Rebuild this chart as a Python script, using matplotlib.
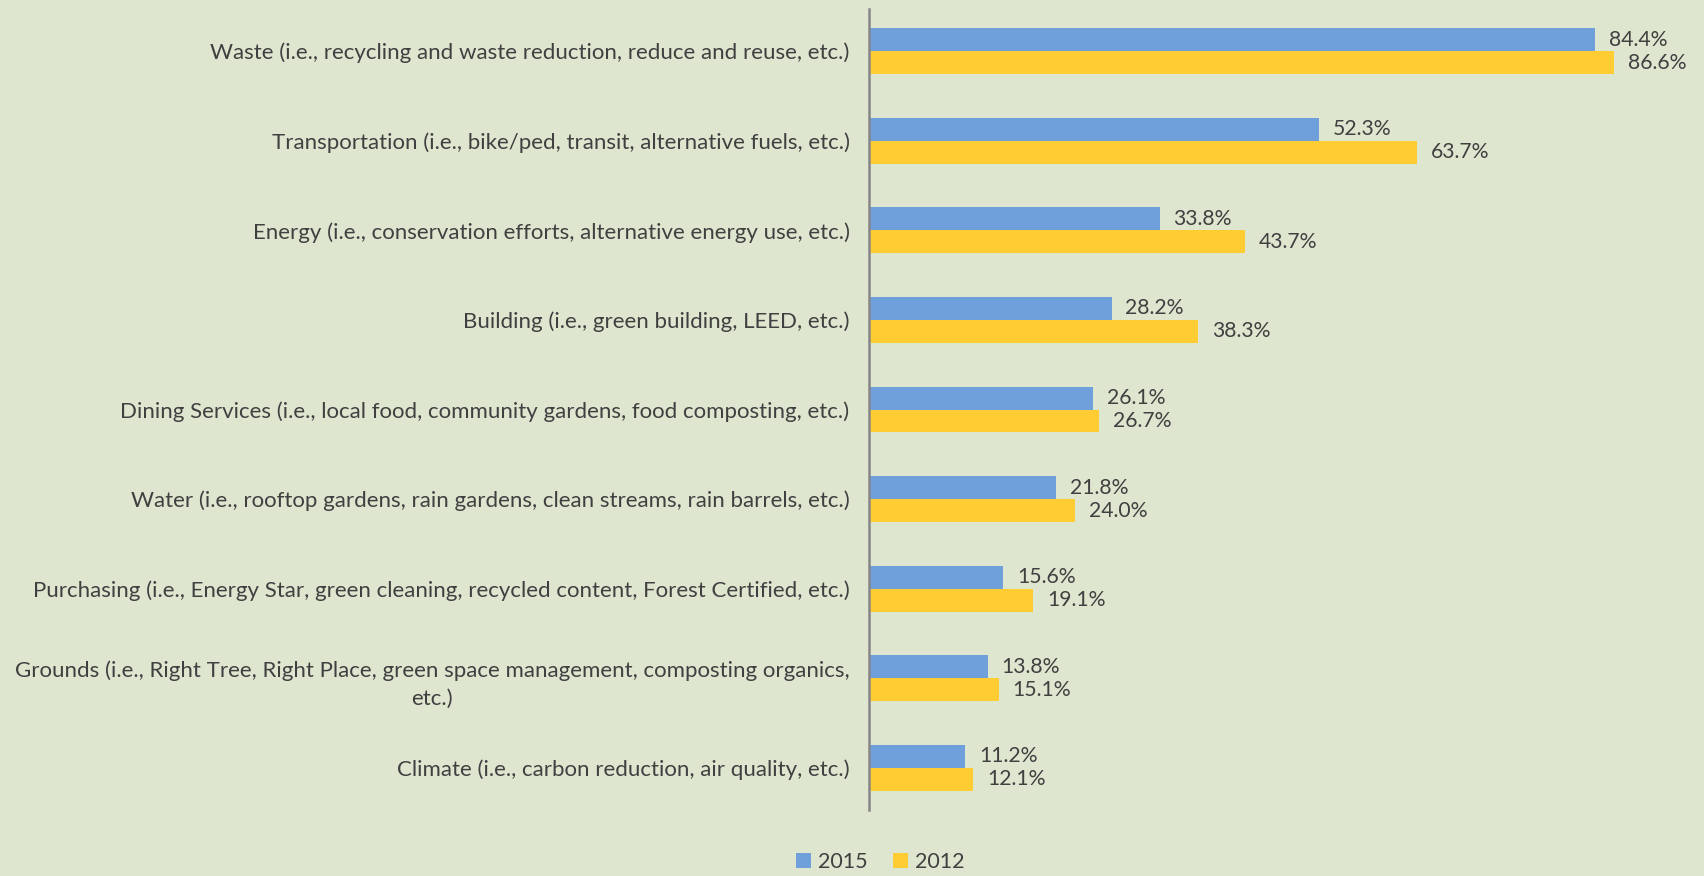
import matplotlib
matplotlib.use("Agg")
import numpy as np
import matplotlib.pyplot as plt

categories = [
    "Waste (i.e., recycling and waste reduction, reduce and reuse, etc.)",
    "Transportation (i.e., bike/ped, transit, alternative fuels, etc.)",
    "Energy (i.e., conservation efforts, alternative energy use, etc.)",
    "Building (i.e., green building, LEED, etc.)",
    "Dining Services (i.e., local food, community gardens, food composting, etc.)",
    "Water (i.e., rooftop gardens, rain gardens, clean streams, rain barrels, etc.)",
    "Purchasing (i.e., Energy Star, green cleaning, recycled content, Forest Certified, etc.)",
    "Grounds (i.e., Right Tree, Right Place, green space management, composting organics,\netc.)",
    "Climate (i.e., carbon reduction, air quality, etc.)",
]
vals_2015 = [84.4, 52.3, 33.8, 28.2, 26.1, 21.8, 15.6, 13.8, 11.2]
vals_2012 = [86.6, 63.7, 43.7, 38.3, 26.7, 24.0, 19.1, 15.1, 12.1]

BG = "#dfe6d0"
BLUE = "#6fa0dc"
YELLOW = "#ffcd33"
TEXT = "#404040"

plt.rcParams["font.family"] = ["Lato", "DejaVu Sans"]

W, H = 1704, 876
fig = plt.figure(figsize=(W / 100, H / 100), dpi=100, facecolor=BG)
ax = fig.add_axes([869 / W, 1 - 810 / H, 774 / W, 801 / H], facecolor=BG)

y = np.arange(len(categories))
h = 0.255
b1 = ax.barh(y - h / 2, vals_2015, height=h, color=BLUE, label="2015")
b2 = ax.barh(y + h / 2, vals_2012, height=h, color=YELLOW, label="2012")

for bars, vals in ((b1, vals_2015), (b2, vals_2012)):
    for bar, v in zip(bars, vals):
        ax.annotate(f"{v:.1f}%", (v, bar.get_y() + bar.get_height() / 2),
                    xytext=(10, 0), textcoords="offset points",
                    va="center", ha="left", fontsize=15.2, color=TEXT)

ax.set_xlim(0, 90)
ax.set_ylim(8.47, -0.47)
ax.set_yticks(y)
ax.set_yticklabels(categories, fontsize=16, color=TEXT)
for lab in ax.get_yticklabels():
    lab.set_multialignment("center")
    lab.set_linespacing(1.5)
ax.tick_params(axis="y", length=0, pad=14)
ax.set_xticks([])
for s in ("top", "right", "bottom"):
    ax.spines[s].set_visible(False)
ax.spines["left"].set_color("#868686")
ax.spines["left"].set_linewidth(1.8)

fig.legend(handles=[b1, b2], loc="center", bbox_to_anchor=(880 / W, 1 - 862 / H),
           ncol=2, frameon=False, fontsize=15.5, labelcolor=TEXT,
           handlelength=0.7, handleheight=0.7, handletextpad=0.3, columnspacing=1.2)

fig.savefig("out.png", dpi=100, facecolor=BG)
